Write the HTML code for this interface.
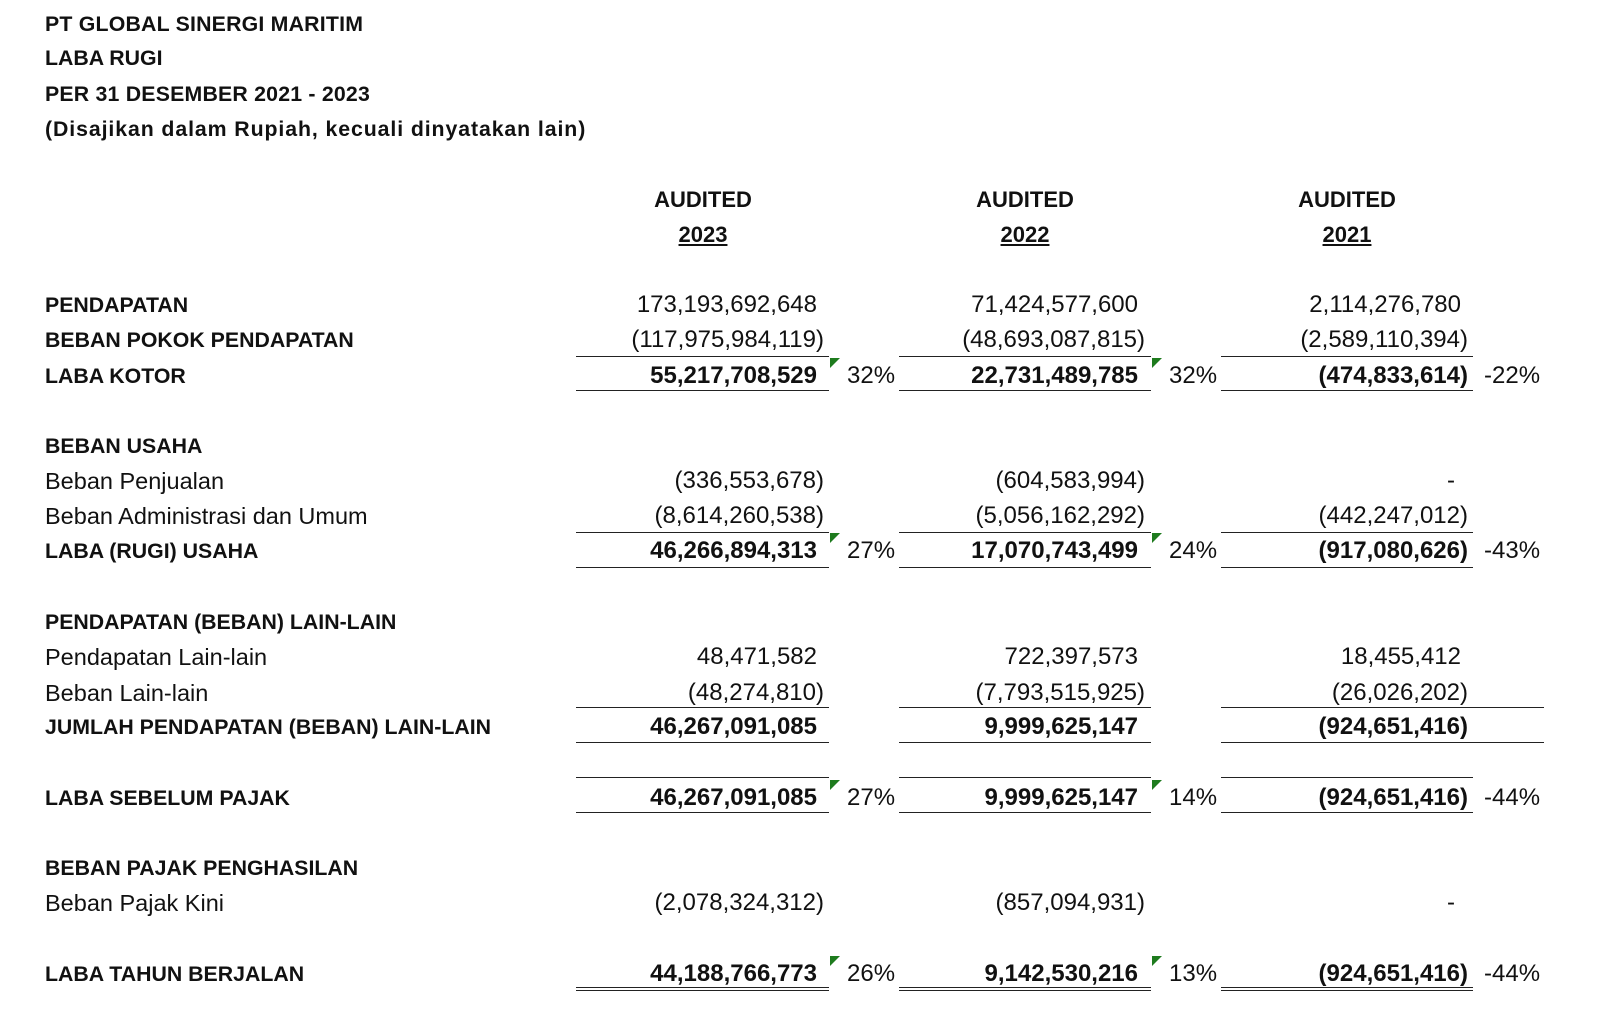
<!DOCTYPE html>
<html><head><meta charset="utf-8">
<style>
html,body{margin:0;padding:0;background:#fff;}
#page{position:relative;width:1606px;height:1036px;overflow:hidden;font-family:"Liberation Sans",Arial,sans-serif;color:#111;}
.t{position:absolute;white-space:nowrap;line-height:30px;height:30px;}
.lab{left:45px;font-size:23.5px;}
.lab.b{font-size:21.3px;}
.b{font-weight:bold;}
.num{font-size:24px;}
.hr{position:absolute;height:0;border-top:1.6px solid #222;}
.tri{position:absolute;width:0;height:0;border-top:10px solid #1e7b1e;border-right:10px solid transparent;}
</style></head>
<body>
<div id="page">
<div class="t lab b" style="top:9px;letter-spacing:0.2px">PT GLOBAL SINERGI MARITIM</div>
<div class="t lab b" style="top:43px">LABA RUGI</div>
<div class="t lab b" style="top:79px;letter-spacing:0.2px">PER 31 DESEMBER 2021 - 2023</div>
<div class="t lab b" style="top:114px;letter-spacing:0.9px">(Disajikan dalam Rupiah, kecuali dinyatakan lain)</div>
</div>
<script>
const years=["2023","2022","2021"];
const rowLabels=["PENDAPATAN","BEBAN POKOK PENDAPATAN","LABA KOTOR","BEBAN USAHA","Beban Penjualan","Beban Administrasi dan Umum","LABA (RUGI) USAHA","PENDAPATAN (BEBAN) LAIN-LAIN","Pendapatan Lain-lain","Beban Lain-lain","JUMLAH PENDAPATAN (BEBAN) LAIN-LAIN","LABA SEBELUM PAJAK","BEBAN PAJAK PENGHASILAN","Beban Pajak Kini","LABA TAHUN BERJALAN"];
const rowBold=[1,1,1,1,0,0,1,1,0,0,1,1,1,0,1];
const valBold=[0,0,1,0,0,0,1,0,0,0,1,1,0,0,1];
const col2023=["173,193,692,648","(117,975,984,119)","55,217,708,529","","(336,553,678)","(8,614,260,538)","46,266,894,313","","48,471,582","(48,274,810)","46,267,091,085","46,267,091,085","","(2,078,324,312)","44,188,766,773"];
const col2022=["71,424,577,600","(48,693,087,815)","22,731,489,785","","(604,583,994)","(5,056,162,292)","17,070,743,499","","722,397,573","(7,793,515,925)","9,999,625,147","9,999,625,147","","(857,094,931)","9,142,530,216"];
const col2021=["2,114,276,780","(2,589,110,394)","(474,833,614)","","-","(442,247,012)","(917,080,626)","","18,455,412","(26,026,202)","(924,651,416)","(924,651,416)","","-","(924,651,416)"];
const pct2023=["","","32%","","","","27%","","","","","27%","","","26%"];
const pct2022=["","","32%","","","","24%","","","","","14%","","","13%"];
const pct2021=["","","-22%","","","","-43%","","","","","-44%","","","-44%"];
const rowY=[305,340,376,446,481,516,551,622,657,693,727,798,868,903,974];
const cols=[{v:col2023,p:pct2023,r:817,l0:576,l1:829,px:847,hc:703},{v:col2022,p:pct2022,r:1138,l0:899,l1:1151,px:1169,hc:1025},{v:col2021,p:pct2021,r:1461,l0:1221,l1:1473,px:1484,hc:1347}];
const page=document.getElementById('page');
function mk(cls,txt){const e=document.createElement('div');e.className=cls;if(txt!==undefined)e.textContent=txt;page.appendChild(e);return e;}
function hr(x0,x1,y,dbl){const e=mk('hr');e.style.left=x0+'px';e.style.width=(x1-x0)+'px';e.style.top=y+'px';if(dbl){e.style.borderTop='1.4px solid #222';e.style.borderBottom='1.4px solid #222';e.style.height='2px';}

}
cols.forEach((c,ci)=>{
 const a=mk('t b');a.textContent='AUDITED';a.style.fontSize='22px';a.style.left=(c.hc-60)+'px';a.style.width='120px';a.style.textAlign='center';a.style.top=(200-15)+'px';
 
 
 const y=mk('t b');y.textContent=years[ci];y.style.fontSize='22px';y.style.textDecoration='underline';y.style.left=(c.hc-60)+'px';y.style.width='120px';y.style.textAlign='center';y.style.top=(235-15)+'px';
 
 
});
rowLabels.forEach((lab,i)=>{
 const l=mk('t lab'+(rowBold[i]?' b':''),lab);l.style.top=(rowY[i]-15)+'px';
 
 
 cols.forEach(c=>{
  const v=c.v[i];
  if(v){const n=mk('t num'+(valBold[i]?' b':''),v);const paren=v[0]==='(';const dash=v==='-';
   n.style.right=(1606-c.r-(paren?7:0)+(dash?6:0))+'px';n.style.top=(rowY[i]-15)+'px';
   
   }
  const p=c.p[i];
  if(p){const q=mk('t num',p);q.style.left=c.px+'px';q.style.top=(rowY[i]-15)+'px';
   
   
   if(c.px<1400){const tr=mk('tri');tr.style.left=(c.l1+1)+'px';tr.style.top=(rowY[i]-18)+'px';
    
    }}
 });
});
cols.forEach((c,ci)=>{
 hr(c.l0,c.l1,356);hr(c.l0,c.l1,390);
 hr(c.l0,c.l1,532);hr(c.l0,c.l1,567);
 hr(c.l0,ci===2?1544:c.l1,707);hr(c.l0,ci===2?1544:c.l1,742);
 hr(c.l0,c.l1,777);hr(c.l0,c.l1,812);
 hr(c.l0,c.l1,987,true);
});
</script>
</body></html>
